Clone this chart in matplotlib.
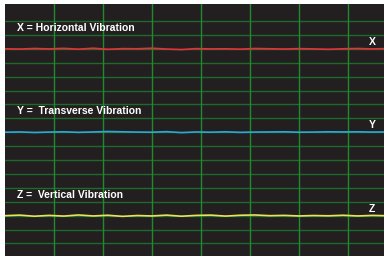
import matplotlib.pyplot as plt

# x positions in grid columns, y values in grid rows (rows counted from the top)
x_pts = [0.0, 0.3, 0.6, 0.9, 1.2, 1.5, 1.8, 2.1, 2.4, 2.7, 3.0, 3.3, 3.6, 3.9,
         4.2, 4.5, 4.8, 5.1, 5.4, 5.7, 6.0, 6.3, 6.6, 6.9, 7.2, 7.5, 7.74]
x_vals = [2.00, 2.02, 1.98, 2.01, 1.97, 2.03, 1.96, 2.04, 1.99, 2.00, 1.96, 2.02, 2.06, 1.99,
          2.01, 2.00, 2.03, 1.98, 2.00, 2.02, 1.99, 2.01, 2.04, 2.00, 1.98, 2.01, 1.99]
y_vals = [8.00, 7.98, 8.02, 7.99, 7.97, 8.01, 7.98, 7.95, 7.97, 7.99, 8.00, 7.96, 8.03, 7.98,
          8.00, 7.97, 8.01, 7.99, 7.98, 7.97, 8.00, 7.99, 7.97, 7.98, 7.97, 7.99, 7.98]
z_vals = [14.00, 13.96, 14.04, 13.98, 14.03, 13.95, 14.02, 13.97, 14.05, 13.99, 14.02, 13.96, 14.04, 13.98,
          13.96, 14.03, 13.97, 13.95, 14.00, 13.98, 14.02, 13.99, 14.01, 13.97, 14.02, 13.98, 14.00]

labels_left = ['X = Horizontal Vibration', 'Y =  Transverse Vibration', 'Z =  Vertical Vibration']
labels_right = ['X', 'Y', 'Z']
colors = ['#e3323c', '#2aa8d8', '#e8e25c']

fig = plt.figure(figsize=(3.84, 2.56), dpi=100)
ax = fig.add_axes([5/384, 0, 379/384, 252/256])
ax.set_facecolor('#231f20')
ax.set_xlim(0, 7.735)
ax.set_ylim(16.9, -1.22)

# grid
for k in range(17):
    ax.axhline(k, color='#1d6a2a', lw=1.0, zorder=1)
for k in range(1, 8):
    ax.axvline(k, color='#1f8a2e', lw=1.0, zorder=1)

series = [x_vals, y_vals, z_vals]
for i in range(3):
    ax.plot(x_pts, series[i], color=colors[i], lw=1.2, zorder=3)
    ax.text(0.24, 0.5 + 6*i, labels_left[i], color='white', fontsize=7.5,
            fontweight='bold', family='Liberation Sans', va='center', ha='left', zorder=4)
    ax.text(7.49, 1.5 + 6*i, labels_right[i], color='white', fontsize=7.5,
            fontweight='bold', family='Liberation Sans', va='center', ha='center', zorder=4)

ax.set_xticks([])
ax.set_yticks([])
for s in ax.spines.values():
    s.set_visible(False)

fig.savefig('out.png', dpi=100)
